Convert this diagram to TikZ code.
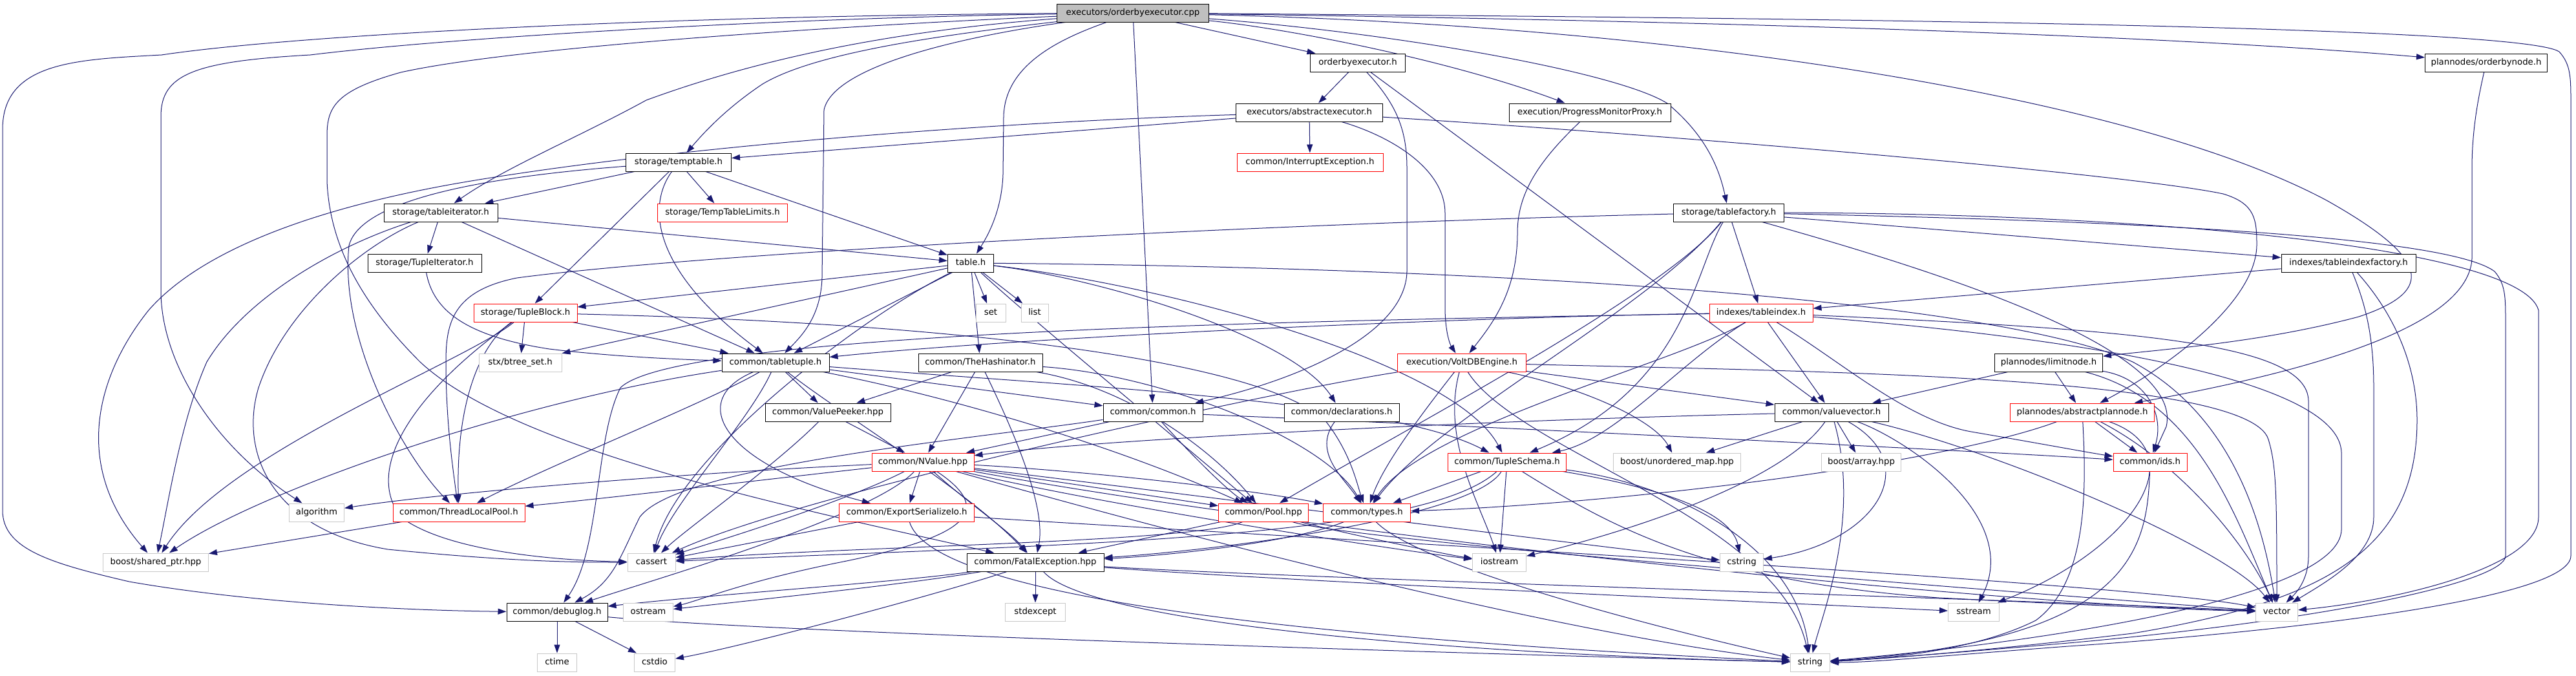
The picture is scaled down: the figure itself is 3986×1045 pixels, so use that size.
\documentclass[tikz,border=0pt]{standalone}
\usepackage{fontspec}
\newfontfamily\dv{DejaVu Sans}
\usetikzlibrary{arrows.meta}
\definecolor{edgec}{RGB}{25,25,112}
\definecolor{gbord}{RGB}{200,200,200}
\definecolor{rootfill}{RGB}{191,191,191}
\pgfdeclarelayer{bg}
\pgfsetlayers{bg,main}
\tikzset{
  box/.style={rectangle, minimum height=28pt, inner sep=0pt, text height=10pt, text depth=3pt,
    font=\dv\fontsize{13.3}{15}\selectfont, fill=white, line width=1pt},
  nb/.style={box, draw=black},
  nr/.style={box, draw=red},
  ng/.style={box, draw=gbord},
  e/.style={draw=edgec, line width=1pt, -{Triangle[length=13pt,width=9pt]}}
}
\begin{document}
\begin{tikzpicture}[x=1pt,y=-1pt]
\useasboundingbox (0,0) rectangle (3986,1045);
% nodes
\node[nb, fill=rootfill, minimum width=235pt] (cpp) at (1753,20) {executors/orderbyexecutor.cpp};
\node[nb, minimum width=147pt] (obeh) at (2101,97) {orderbyexecutor.h};
\node[nb, minimum width=189pt] (obnode) at (3847,97) {plannodes/orderbynode.h};
\node[nb, minimum width=227pt] (absexec) at (2026,174) {executors/abstractexecutor.h};
\node[nb, minimum width=250pt] (pmp) at (2460,174) {execution/ProgressMonitorProxy.h};
\node[nb, minimum width=163pt] (temptable) at (1050,251) {storage/temptable.h};
\node[nr, minimum width=226pt] (intexc) at (2027,251) {common/InterruptException.h};
\node[nr, minimum width=201pt] (ttlimits) at (1118,329) {storage/TempTableLimits.h};
\node[nb, minimum width=176pt] (tableiter) at (682,329) {storage/tableiterator.h};
\node[nb, minimum width=171pt] (tablefactory) at (2675,329) {storage/tablefactory.h};
\node[nb, minimum width=176pt] (tupleiter) at (657,407) {storage/TupleIterator.h};
\node[nb, minimum width=71pt] (table) at (1502,407) {table.h};
\node[nb, minimum width=208pt] (tidxfactory) at (3634,407) {indexes/tableindexfactory.h};
\node[nr, minimum width=160pt] (tupleblock) at (813,484) {storage/TupleBlock.h};
\node[ng, minimum width=46pt] (set) at (1533,484) {set};
\node[ng, minimum width=42pt] (list) at (1601,484) {list};
\node[nr, minimum width=160pt] (tableindex) at (2725,484) {indexes/tableindex.h};
\node[ng, minimum width=128pt] (btree) at (805,561) {stx/btree\_set.h};
\node[nb, minimum width=166pt] (tabletuple) at (1200,561) {common/tabletuple.h};
\node[nb, minimum width=192pt] (hashinator) at (1517,561) {common/TheHashinator.h};
\node[nr, minimum width=199pt] (voltdb) at (2262,561) {execution/VoltDBEngine.h};
\node[nb, minimum width=167pt] (limitnode) at (3170,561) {plannodes/limitnode.h};
\node[nb, minimum width=194pt] (valuepeeker) at (1281,638) {common/ValuePeeker.hpp};
\node[nb, minimum width=154pt] (common) at (1784,638) {common/common.h};
\node[nb, minimum width=178pt] (decl) at (2076,638) {common/declarations.h};
\node[nb, minimum width=176pt] (valuevector) at (2834,638) {common/valuevector.h};
\node[nr, minimum width=223pt] (absplan) at (3222,638) {plannodes/abstractplannode.h};
\node[nr, minimum width=158pt] (nvalue) at (1428,715) {common/NValue.hpp};
\node[nr, minimum width=183pt] (tupleschema) at (2332,715) {common/TupleSchema.h};
\node[ng, minimum width=197pt] (umap) at (2595,715) {boost/unordered\_map.hpp};
\node[ng, minimum width=123pt] (array) at (2880,715) {boost/array.hpp};
\node[nr, minimum width=114pt] (ids) at (3327,715) {common/ids.h};
\node[ng, minimum width=85pt] (algorithm) at (490,793) {algorithm};
\node[nr, minimum width=204pt] (tlpool) at (710,793) {common/ThreadLocalPool.h};
\node[nr, minimum width=209pt] (esio) at (1403,793) {common/ExportSerializeIo.h};
\node[nr, minimum width=139pt] (pool) at (1955,793) {common/Pool.hpp};
\node[nr, minimum width=135pt] (types) at (2115,793) {common/types.h};
\node[ng, minimum width=163pt] (sharedptr) at (241,870) {boost/shared\_ptr.hpp};
\node[ng, minimum width=74pt] (cassert) at (1008,870) {cassert};
\node[nb, minimum width=212pt] (fatal) at (1602,870) {common/FatalException.hpp};
\node[ng, minimum width=83pt] (iostream) at (2320,870) {iostream};
\node[ng, minimum width=67pt] (cstring) at (2695,870) {cstring};
\node[nb, minimum width=156pt] (debuglog) at (862,947) {common/debuglog.h};
\node[ng, minimum width=77pt] (ostream) at (1003,947) {ostream};
\node[ng, minimum width=93pt] (stdexcept) at (1602,947) {stdexcept};
\node[ng, minimum width=79pt] (sstream) at (3054,947) {sstream};
\node[ng, minimum width=65pt] (vector) at (3523,947) {vector};
\node[ng, minimum width=61pt] (ctime) at (862,1025) {ctime};
\node[ng, minimum width=63pt] (cstdio) at (1013,1025) {cstdio};
\node[ng, minimum width=61pt] (string) at (2801,1025) {string};

\begin{pgfonlayer}{bg}
% from cpp
\draw[e] (cpp) .. controls (1000,25) and (450,55) .. (250,85) .. controls (120,92) and (4,95) .. (4,200) -- (4,790) .. controls (4,850) and (80,872) .. (200,900) .. controls (400,935) and (650,945) .. (debuglog);
\draw[e] (cpp) .. controls (1200,28) and (700,58) .. (480,85) .. controls (300,95) and (249,115) .. (249,180) -- (249,450) .. controls (249,560) and (330,690) .. (algorithm);
\draw[e] (cpp) .. controls (1300,40) and (800,72) .. (620,112) .. controls (520,140) and (506,165) .. (506,210) -- (506,280) .. controls (510,380) and (560,470) .. (650,560) .. controls (800,700) and (1250,790) .. (fatal);
\draw[e] (cpp) .. controls (1350,50) and (1150,100) .. (1000,155) .. controls (900,210) and (780,260) .. (tableiter);
\draw[e] (cpp) .. controls (1450,55) and (1260,82) .. (1180,130) .. controls (1120,170) and (1085,210) .. (temptable);
\draw[e] (cpp) .. controls (1500,55) and (1290,100) .. (1275,170) -- (1272,430) .. controls (1270,490) and (1240,520) .. (tabletuple);
\draw[e] (cpp) .. controls (1640,60) and (1555,100) .. (1553,180) -- (1552,270) .. controls (1550,330) and (1525,370) .. (table);
\draw[e] (cpp) -- (common);
\draw[e] (cpp) -- (obeh);
\draw[e] (cpp) .. controls (2000,45) and (2250,95) .. (pmp);
\draw[e] (cpp) .. controls (2150,50) and (2500,110) .. (2580,160) .. controls (2640,210) and (2660,260) .. (tablefactory);
\draw[e] (cpp) .. controls (2500,30) and (3300,50) .. (obnode);
\draw[e] (cpp) .. controls (2600,40) and (3300,150) .. (3600,310) .. controls (3760,400) and (3770,450) .. (3650,490) .. controls (3500,530) and (3350,540) .. (limitnode);
\draw[e] (cpp) .. controls (2800,28) and (3900,40) .. (3960,80) .. controls (3978,100) and (3978,120) .. (3978,160) -- (3978,860) .. controls (3978,930) and (3500,980) .. (3200,1000) .. controls (3000,1015) and (2900,1025) .. (string);
% obnode, obeh
\draw[e] (obnode) .. controls (3835,150) and (3825,200) .. (3825,260) -- (3825,400) .. controls (3820,500) and (3600,570) .. (absplan);
\draw[e] (obeh) -- (absexec);
\draw[e] (obeh) .. controls (2160,160) and (2177,200) .. (2177,260) -- (2177,420) .. controls (2175,520) and (2000,590) .. (common);
\draw[e] (obeh) -- (valuevector);
% absexec
\draw[e] (absexec) -- (intexc);
\draw[e] (absexec) -- (temptable);
\draw[e] (absexec) .. controls (1500,190) and (1000,232) .. (700,285) .. controls (450,330) and (300,400) .. (230,480) .. controls (150,580) and (110,720) .. (sharedptr);
\draw[e] (absexec) .. controls (2150,210) and (2236,260) .. (2236,330) -- (2236,480) .. controls (2237,520) and (2245,535) .. (voltdb);
\draw[e] (absexec) .. controls (2600,210) and (3300,270) .. (3440,300) .. controls (3490,315) and (3492,340) .. (3492,380) .. controls (3490,470) and (3350,570) .. (absplan);
\draw[e] (pmp) .. controls (2380,250) and (2348,300) .. (2348,360) .. controls (2348,450) and (2310,500) .. (voltdb);
% temptable
\draw[e] (temptable) -- (ttlimits);
\draw[e] (temptable) -- (table);
\draw[e] (temptable) -- (tableiter);
\draw[e] (temptable) -- (tupleblock);
\draw[e] (temptable) .. controls (1000,320) and (1010,420) .. (tabletuple);
\draw[e] (temptable) .. controls (800,270) and (560,300) .. (540,380) .. controls (525,520) and (620,700) .. (tlpool);
% tableiter
\draw[e] (tableiter) -- (tupleiter);
\draw[e] (tableiter) -- (table);
\draw[e] (tableiter) -- (tabletuple);
\draw[e] (tableiter) .. controls (520,380) and (380,460) .. (320,560) .. controls (280,650) and (260,780) .. (sharedptr);
\draw[e] (tableiter) .. controls (560,380) and (440,480) .. (400,600) .. controls (370,700) and (420,820) .. (600,850) .. controls (800,870) and (900,870) .. (cassert);
\draw[e] (tupleiter) .. controls (670,480) and (720,520) .. (850,540) .. controls (950,552) and (1050,556) .. (tabletuple);
% tablefactory
\draw[e] (tablefactory) -- (tableindex);
\draw[e] (tablefactory) -- (tidxfactory);
\draw[e] (tablefactory) .. controls (2550,480) and (2220,650) .. (types);
\draw[e] (tablefactory) .. controls (2580,450) and (2200,650) .. (pool);
\draw[e] (tablefactory) .. controls (2620,420) and (2610,600) .. (tupleschema);
\draw[e] (tablefactory) .. controls (3000,420) and (3380,540) .. (3352,660) -- (ids);
\draw[e] (tablefactory) .. controls (3200,340) and (3780,360) .. (3860,420) .. controls (3877,440) and (3877,460) .. (3877,500) -- (3877,860) .. controls (3877,900) and (3600,960) .. (3200,995) .. controls (3000,1012) and (2900,1020) .. (string);
\draw[e] (tablefactory) .. controls (3300,330) and (3900,380) .. (3928,480) -- (3928,800) .. controls (3928,880) and (3700,930) .. (vector);
\draw[e] (tablefactory) .. controls (2000,345) and (1100,390) .. (800,430) .. controls (700,450) and (690,500) .. (690,560) .. controls (690,650) and (700,720) .. (tlpool);
% tidxfactory
\draw[e] (tidxfactory) -- (tableindex);
\draw[e] (tidxfactory) .. controls (3660,470) and (3673,520) .. (3673,600) -- (3673,800) .. controls (3673,860) and (3600,900) .. (vector);
\draw[e] (tidxfactory) .. controls (3700,480) and (3740,560) .. (3740,650) .. controls (3740,850) and (3600,930) .. (3300,980) .. controls (3050,1010) and (2900,1020) .. (string);
% table
\draw[e] (table) -- (set);
\draw[e] (table) -- (list);
\draw[e] (table) -- (tupleblock);
\draw[e] (table) -- (btree);
\draw[e] (table) -- (tabletuple);
\draw[e] (table) -- (hashinator);
\draw[e] (table) .. controls (1700,430) and (2000,520) .. (decl);
\draw[e] (table) .. controls (1800,440) and (2250,560) .. (tupleschema);
\draw[e] (table) .. controls (1580,480) and (1750,620) .. (pool);
\draw[e] (table) .. controls (1350,480) and (1050,700) .. (cassert);
\draw[e] (table) .. controls (2400,415) and (3100,470) .. (3300,560) .. controls (3450,640) and (3500,800) .. (vector);
% tupleblock
\draw[e] (tupleblock) -- (btree);
\draw[e] (tupleblock) -- (tabletuple);
\draw[e] (tupleblock) .. controls (745,530) and (705,620) .. (tlpool);
\draw[e] (tupleblock) .. controls (720,560) and (350,700) .. (sharedptr);
\draw[e] (tupleblock) .. controls (650,600) and (560,720) .. (620,800) .. controls (700,860) and (900,868) .. (cassert);
\draw[e] (tupleblock) .. controls (1500,500) and (1950,560) .. (2050,650) .. controls (2090,700) and (2100,750) .. (types);
% tableindex
\draw[e] (tableindex) .. controls (2300,490) and (1600,520) .. (tabletuple);
\draw[e] (tableindex) .. controls (2600,560) and (2500,680) .. (tupleschema);
\draw[e] (tableindex) .. controls (2600,560) and (2200,660) .. (types);
\draw[e] (tableindex) -- (valuevector);
\draw[e] (tableindex) .. controls (2850,560) and (2950,650) .. (3050,668) .. controls (3150,685) and (3230,700) .. (ids);
\draw[e] (tableindex) .. controls (3300,510) and (3570,530) .. (3572,620) -- (3572,860) .. controls (3572,900) and (3550,920) .. (vector);
\draw[e] (tableindex) .. controls (3300,530) and (3620,600) .. (3623,700) -- (3623,820) .. controls (3620,920) and (3200,990) .. (string);
\draw[e] (tableindex) .. controls (2100,495) and (1050,510) .. (960,600) .. controls (920,680) and (930,850) .. (debuglog);
% tabletuple
\draw[e] (tabletuple) -- (valuepeeker);
\draw[e] (tabletuple) .. controls (1060,620) and (1120,720) .. (esio);
\draw[e] (tabletuple) -- (common);
\draw[e] (tabletuple) .. controls (1500,620) and (1750,700) .. (pool);
\draw[e] (tabletuple) .. controls (1100,620) and (850,720) .. (tlpool);
\draw[e] (tabletuple) .. controls (1160,650) and (1040,780) .. (cassert);
\draw[e] (tabletuple) .. controls (800,620) and (400,760) .. (sharedptr);
\draw[e] (tabletuple) .. controls (1300,640) and (1500,760) .. (fatal);
\draw[e] (tabletuple) .. controls (1700,600) and (2150,620) .. (tupleschema);
% hashinator
\draw[e] (hashinator) -- (valuepeeker);
\draw[e] (hashinator) -- (nvalue);
\draw[e] (hashinator) .. controls (1560,650) and (1620,780) .. (fatal);
\draw[e] (hashinator) .. controls (1750,600) and (1880,700) .. (pool);
\draw[e] (hashinator) .. controls (1800,580) and (2050,680) .. (types);
% voltdb
\draw[e] (voltdb) -- (valuevector);
\draw[e] (voltdb) .. controls (2450,600) and (2560,650) .. (umap);
\draw[e] (voltdb) .. controls (2200,640) and (2140,720) .. (types);
\draw[e] (voltdb) .. controls (2800,575) and (3480,580) .. (3510,680) .. controls (3522,720) and (3523,760) .. (vector);
\draw[e] (voltdb) .. controls (2350,700) and (2750,800) .. (string);
\draw[e] (voltdb) .. controls (2000,600) and (1250,760) .. (cassert);
\draw[e] (voltdb) .. controls (2230,680) and (2290,780) .. (iostream);
% limitnode
\draw[e] (limitnode) -- (absplan);
\draw[e] (limitnode) -- (valuevector);
\draw[e] (limitnode) .. controls (3320,585) and (3350,640) .. (ids);
\draw[e] (limitnode) .. controls (3400,620) and (3460,800) .. (vector);
% valuepeeker, common, decl
\draw[e] (valuepeeker) -- (nvalue);
\draw[e] (valuepeeker) .. controls (1200,720) and (1060,820) .. (cassert);
\draw[e] (common) -- (nvalue);
\draw[e] (common) .. controls (1840,700) and (1900,760) .. (pool);
\draw[e] (common) .. controls (2300,660) and (3100,700) .. (ids);
\draw[e] (common) .. controls (1500,680) and (1050,720) .. (990,800) .. controls (960,860) and (950,900) .. (debuglog);
\draw[e] (decl) .. controls (2030,700) and (2080,740) .. (types);
% valuevector
\draw[e] (valuevector) -- (umap);
\draw[e] (valuevector) -- (array);
\draw[e] (valuevector) .. controls (2300,650) and (1700,680) .. (nvalue);
\draw[e] (valuevector) .. controls (2750,760) and (2450,840) .. (iostream);
\draw[e] (valuevector) .. controls (2980,720) and (2900,840) .. (cstring);
\draw[e] (valuevector) .. controls (2950,680) and (3130,800) .. (sstream);
\draw[e] (valuevector) .. controls (3100,700) and (3450,850) .. (vector);
\draw[e] (valuevector) .. controls (2880,800) and (2820,950) .. (string);
% absplan
\draw[e] (absplan) -- (ids);
\draw[e] (absplan) .. controls (3000,720) and (2500,780) .. (types);
\draw[e] (absplan) .. controls (3380,720) and (3480,850) .. (vector);
\draw[e] (absplan) .. controls (3228,750) and (3232,900) .. (3150,960) .. controls (3050,1010) and (2900,1020) .. (string);
\draw[e] (absplan) .. controls (3400,700) and (3300,850) .. (sstream);
% nvalue
\draw[e] (nvalue) .. controls (1100,730) and (700,760) .. (algorithm);
\draw[e] (nvalue) .. controls (1200,740) and (950,770) .. (tlpool);
\draw[e] (nvalue) -- (esio);
\draw[e] (nvalue) .. controls (1600,740) and (1800,770) .. (pool);
\draw[e] (nvalue) .. controls (1700,730) and (1950,760) .. (types);
\draw[e] (nvalue) .. controls (1300,780) and (1100,840) .. (cassert);
\draw[e] (nvalue) .. controls (1500,780) and (1560,820) .. (fatal);
\draw[e] (nvalue) .. controls (1700,780) and (2150,850) .. (iostream);
\draw[e] (nvalue) .. controls (1800,760) and (2500,850) .. (cstring);
\draw[e] (nvalue) .. controls (1800,820) and (2400,980) .. (string);
\draw[e] (nvalue) .. controls (2000,820) and (3000,930) .. (vector);
\draw[e] (nvalue) .. controls (1350,800) and (1000,900) .. (debuglog);
\draw[e] (nvalue) .. controls (1540,790) and (1500,830) .. (1300,870) .. controls (1150,900) and (1080,930) .. (ostream);
% tupleschema
\draw[e] (tupleschema) -- (types);
\draw[e] (tupleschema) -- (iostream);
\draw[e] (tupleschema) .. controls (2600,760) and (2680,800) .. (cstring);
\draw[e] (tupleschema) .. controls (2600,750) and (2780,850) .. (string);
\draw[e] (tupleschema) .. controls (2280,800) and (1900,850) .. (fatal);
\draw[e] (tupleschema) .. controls (2200,835) and (1650,842) .. (cassert);
\draw[e] (tupleschema) .. controls (2500,820) and (2650,900) .. (3000,925) .. controls (3300,940) and (3450,945) .. (vector);
% others
\draw[e] (ids) .. controls (3322,850) and (3300,990) .. (string);
\draw[e] (tlpool) -- (sharedptr);
\draw[e] (esio) -- (cassert);
\draw[e] (esio) .. controls (1450,950) and (2300,1000) .. (string);
\draw[e] (esio) .. controls (1800,820) and (3300,900) .. (vector);
\draw[e] (pool) -- (fatal);
\draw[e] (pool) .. controls (2100,830) and (2250,860) .. (iostream);
\draw[e] (pool) .. controls (2100,840) and (3300,930) .. (vector);
\draw[e] (pool) .. controls (1850,840) and (1300,845) .. (cassert);
\draw[e] (types) .. controls (2200,880) and (2600,980) .. (string);
\draw[e] (types) .. controls (2000,840) and (1800,860) .. (fatal);
\draw[e] (fatal) -- (stdexcept);
\draw[e] (fatal) .. controls (1450,920) and (1150,1000) .. (cstdio);
\draw[e] (fatal) .. controls (1400,900) and (1100,920) .. (debuglog);
\draw[e] (fatal) .. controls (1400,905) and (1150,930) .. (ostream);
\draw[e] (fatal) .. controls (1680,960) and (2200,1010) .. (string);
\draw[e] (fatal) .. controls (2000,900) and (2700,930) .. (sstream);
\draw[e] (fatal) .. controls (2000,895) and (3200,930) .. (vector);
\draw[e] (debuglog) -- (ctime);
\draw[e] (debuglog) -- (cstdio);
\draw[e] (debuglog) .. controls (1200,980) and (2400,1015) .. (string);
\end{pgfonlayer}
\end{tikzpicture}
\end{document}
